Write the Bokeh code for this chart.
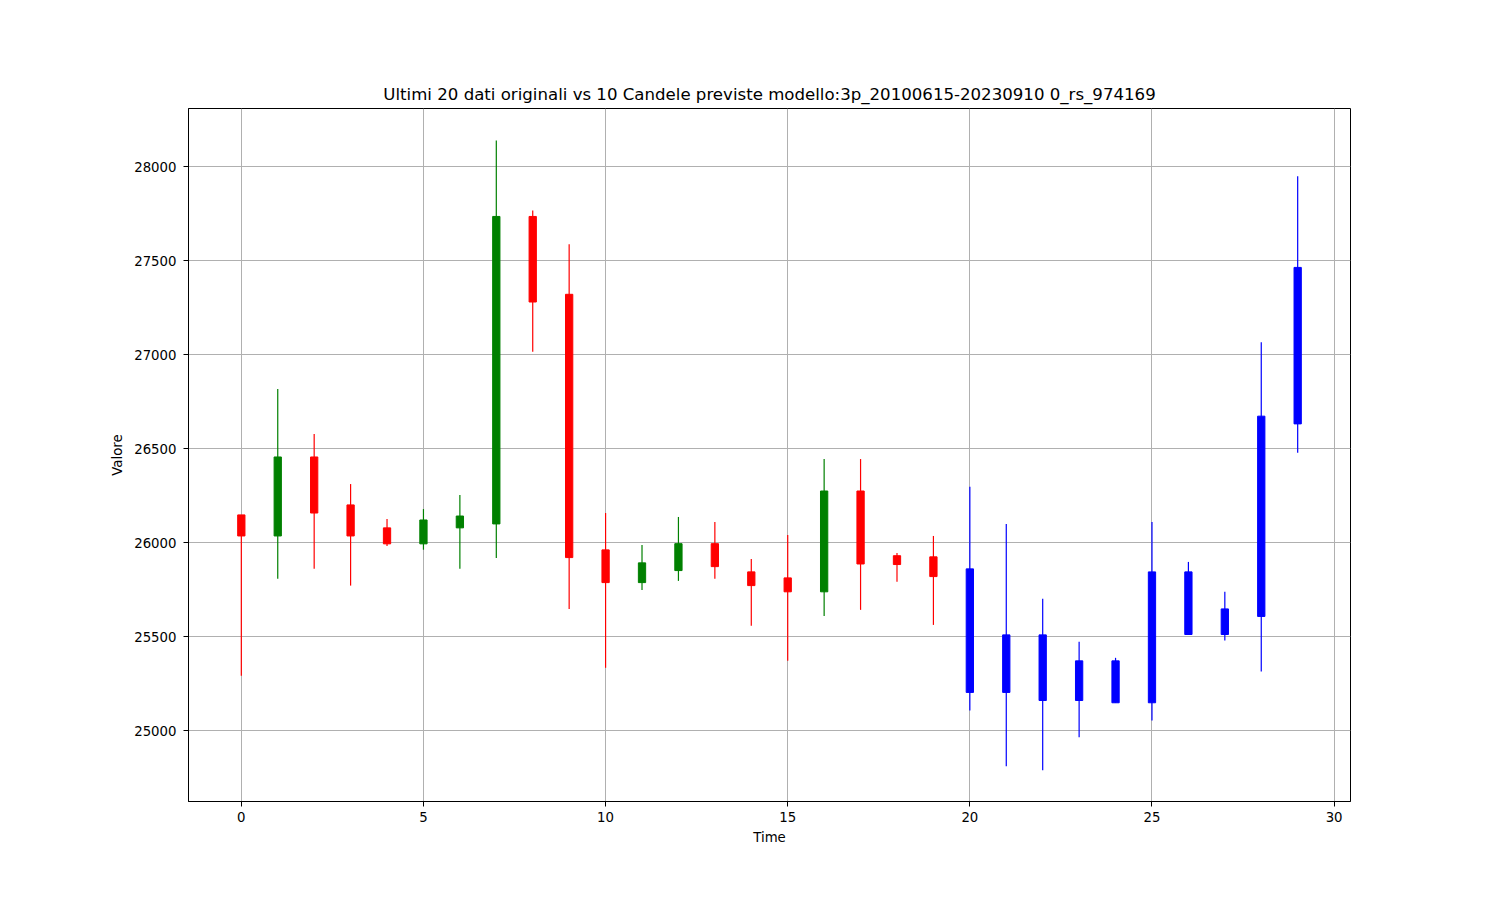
from bokeh.plotting import figure
from bokeh.models import ColumnDataSource, Range1d, FixedTicker
from bokeh.embed import file_html
from bokeh.resources import INLINE

# 20 original candles followed by 10 predicted candles
times = list(range(30))
opens = [26149, 26037, 26457, 26202, 26080, 25995, 26080, 26101, 27736, 27322,
         25963, 25789, 25853, 25996, 25846, 25814, 25740, 26276, 25932, 25926,
         25862, 25205, 25511, 25162, 25373, 25150, 25846, 25513, 25609, 26633]
closes = [26037, 26457, 26159, 26037, 25995, 26122, 26143, 27736, 27281, 25922,
          25789, 25894, 25996, 25874, 25773, 25740, 26276, 25888, 25885, 25821,
          25205, 25511, 25162, 25373, 25150, 25846, 25513, 25649, 26674, 27465]
highs = [26149, 26818, 26579, 26313, 26127, 26180, 26255, 28140, 27768, 27588,
         26159, 25989, 26138, 26111, 25915, 26042, 26446, 26446, 25947, 26037,
         26299, 26101, 25703, 25474, 25389, 26111, 25899, 25740, 27067, 27950]
lows = [25294, 25809, 25862, 25773, 25984, 25964, 25862, 25920, 27016, 25649,
        25336, 25750, 25798, 25809, 25559, 25373, 25612, 25644, 25793, 25564,
        25109, 24812, 24791, 24966, 25150, 25056, 25513, 25481, 25316, 26479]
n_original = 20

colors = []
for i in range(len(times)):
    if i >= n_original:
        colors.append("blue")
    elif closes[i] > opens[i]:
        colors.append("green")
    else:
        colors.append("red")

src = ColumnDataSource(dict(
    x=times,
    top=[max(o, c) for o, c in zip(opens, closes)],
    bottom=[min(o, c) for o, c in zip(opens, closes)],
    high=highs,
    low=lows,
    color=colors,
))

FONT = "DejaVu Sans"

p = figure(width=1490, height=890, output_backend="svg", toolbar_location=None,
           x_range=Range1d(-1.45, 30.45), y_range=Range1d(24625, 28310),
           title="Ultimi 20 dati originali vs 10 Candele previste modello:3p_20100615-20230910 0_rs_974169",
           x_axis_label="Time", y_axis_label="Valore")
p.min_border_left = 188
p.min_border_right = 140
p.min_border_top = 108
p.min_border_bottom = 89

p.title.align = "center"
p.title.text_font = FONT
p.title.text_font_size = "16.6px"
p.title.text_font_style = "normal"
p.title.text_color = "black"

p.outline_line_color = "black"
p.outline_line_width = 1
p.outline_line_alpha = 1

for ax in (p.xaxis[0], p.yaxis[0]):
    ax.axis_line_color = "black"
    ax.major_tick_line_color = "black"
    ax.minor_tick_line_color = None
    ax.major_tick_out = 5
    ax.major_tick_in = 0
    ax.major_label_text_font = FONT
    ax.major_label_text_font_size = "13.3px"
    ax.major_label_text_color = "black"
    ax.axis_label_text_font = FONT
    ax.axis_label_text_font_size = "13.3px"
    ax.axis_label_text_font_style = "normal"
    ax.axis_label_text_color = "black"

p.xaxis.ticker = FixedTicker(ticks=[0, 5, 10, 15, 20, 25, 30])
p.yaxis.ticker = FixedTicker(ticks=[25000, 25500, 26000, 26500, 27000, 27500, 28000])
p.yaxis.major_label_orientation = "horizontal"
p.yaxis.major_label_standoff = 7
p.xaxis.axis_label_standoff = 5
p.yaxis.axis_label_standoff = 6

p.xgrid.grid_line_color = "#b0b0b0"
p.ygrid.grid_line_color = "#b0b0b0"
p.xgrid.grid_line_width = 1
p.ygrid.grid_line_width = 1

p.segment(x0="x", y0="low", x1="x", y1="high", source=src, line_color="color", line_width=1.2)
p.vbar(x="x", width=0.2, top="top", bottom="bottom", source=src,
       fill_color="color", line_color="color", line_width=1)

open("out.html", "w").write(file_html(p, INLINE))
